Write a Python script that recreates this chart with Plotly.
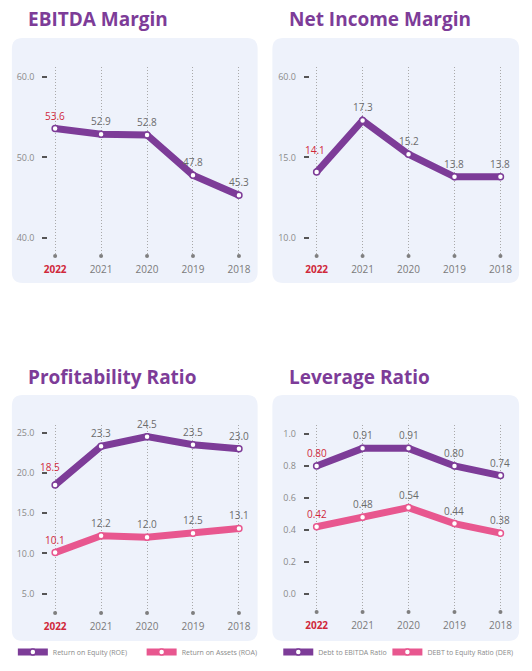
import plotly.graph_objects as go

W, H = 532, 671

years = ["2022", "2021", "2020", "2019", "2018"]
year_labels = ["<span style='color:#d0283a'><b>2022</b></span>", "2021", "2020", "2019", "2018"]

ebitda_margin = [53.6, 52.9, 52.8, 47.8, 45.3]
net_income_margin = [14.1, 17.3, 15.2, 13.8, 13.8]
roe = [18.5, 23.3, 24.5, 23.5, 23.0]
roa = [10.1, 12.2, 12.0, 12.5, 13.1]
debt_to_ebitda = [0.80, 0.91, 0.91, 0.80, 0.74]
der = [0.42, 0.48, 0.54, 0.44, 0.38]

ebitda_ticks = [40, 50, 60]
ebitda_ticktext = ["40.0", "50.0", "60.0"]
nim_ticks = [10, 15, 20]
nim_ticktext = ["10.0", "15.0", "60.0"]
prof_ticks = [5, 10, 15, 20, 25]
prof_ticktext = ["5.0", "10.0", "15.0", "20.0", "25.0"]
lev_ticks = [0.0, 0.2, 0.4, 0.6, 0.8, 1.0]
lev_ticktext = ["0.0", "0.2", "0.4", "0.6", "0.8", "1.0"]

titles = ["EBITDA Margin", "Net Income Margin", "Profitability Ratio", "Leverage Ratio"]

PURPLE = "#7d3c98"
PINK = "#e8578f"
RED = "#d0283a"
GREY_TXT = "#6b6b6b"
BOX_BG = "#eef2fb"
FONT = "Open Sans"


def px_x(x):
    return x / W


def px_y(y):
    return 1 - y / H


def rounded_rect(x0, y0, x1, y1, r):
    pts = [
        ("M", x0 + r, y0), ("L", x1 - r, y0), ("Q", (x1, y0), (x1, y0 + r)),
        ("L", x1, y1 - r), ("Q", (x1, y1), (x1 - r, y1)),
        ("L", x0 + r, y1), ("Q", (x0, y1), (x0, y1 - r)),
        ("L", x0, y0 + r), ("Q", (x0, y0), (x0 + r, y0)),
    ]
    s = ""
    for p in pts:
        if p[0] == "Q":
            (cx, cy), (ex, ey) = p[1], p[2]
            s += f"Q{px_x(cx):.5f},{px_y(cy):.5f} {px_x(ex):.5f},{px_y(ey):.5f} "
        else:
            s += f"{p[0]}{px_x(p[1]):.5f},{px_y(p[2]):.5f} "
    return s + "Z"


panels = [
    dict(l=45, r=246, t=67, b=256, box=(8, 38, 258, 283), title=(22, 19),
         yr=[37.75, 61.25], tv=ebitda_ticks, tt=ebitda_ticktext),
    dict(l=311, r=512, t=67, b=256, box=(273, 38, 524, 283), title=(288, 19),
         yr=[8.88, 20.62], tv=nim_ticks, tt=nim_ticktext),
    dict(l=45, r=246, t=425, b=613, box=(8, 395, 258, 641), title=(22, 377),
         yr=[2.6, 25.95], tv=prof_ticks, tt=prof_ticktext),
    dict(l=311, r=512, t=425, b=612, box=(273, 395, 524, 641), title=(288, 377),
         yr=[-0.1125, 1.056], tv=lev_ticks, tt=lev_ticktext),
]

fig = go.Figure()
layout = dict(
    width=W, height=H, margin=dict(l=0, r=0, t=0, b=0),
    paper_bgcolor="white", plot_bgcolor="rgba(0,0,0,0)",
    font=dict(family=FONT, color=GREY_TXT),
    shapes=[], annotations=[],
)

for i, p in enumerate(panels):
    n = "" if i == 0 else str(i + 1)
    layout["xaxis" + n] = dict(
        domain=[px_x(p["l"]), px_x(p["r"])], anchor="y" + n,
        type="category", range=[-0.15, 4.15],
        tickmode="array", tickvals=years, ticktext=year_labels,
        showgrid=True, gridcolor="#a9a9a9", griddash="1px,2px", gridwidth=1,
        showline=False, zeroline=False, ticks="",
        tickfont=dict(size=10, color="#7a7a7a", family=FONT), ticklabelstandoff=6,
    )
    layout["yaxis" + n] = dict(
        domain=[px_y(p["b"]), px_y(p["t"])], anchor="x" + n,
        range=p["yr"], tickmode="array", tickvals=p["tv"], ticktext=p["tt"],
        showgrid=False, zeroline=False, showline=False,
        ticks="outside", ticklen=5, tickwidth=1.5, tickcolor="#555555",
        tickfont=dict(size=9, color="#8a8a8a", family=FONT), ticklabelstandoff=6,
    )
    x0, y0, x1, y1 = p["box"]
    layout["shapes"].append(dict(
        type="path", xref="paper", yref="paper", path=rounded_rect(x0, y0, x1, y1, 11),
        fillcolor=BOX_BG, line=dict(width=0), layer="below"))
    tx, ty = p["title"]
    layout["annotations"].append(dict(
        text=f"<b>{titles[i]}</b>", xref="paper", yref="paper",
        x=px_x(tx), y=px_y(ty), xanchor="left", yanchor="middle", showarrow=False,
        font=dict(size=19, color=PURPLE, family="Open Sans")))
    fig.add_trace(go.Scatter(
        x=years, y=[p["yr"][0]] * len(years), mode="markers",
        marker=dict(size=4, color="#7f7f7f"), cliponaxis=False,
        showlegend=False, hoverinfo="skip", xaxis="x" + n, yaxis="y" + n))

# extra label offsets for the first (highlighted) label of some series: (dx, dy) px
first_label_shift = {"nim": (-2, 22), "roe": (-5, 18)}


def add_series(values, color, fmt, idx, key, name=None, legend=None):
    n = "" if idx == 0 else str(idx + 1)
    fig.add_trace(go.Scatter(
        x=years, y=values, mode="lines+markers",
        line=dict(color=color, width=7),
        marker=dict(size=6, color="white", line=dict(color=color, width=1.5)),
        cliponaxis=False, name=name, showlegend=name is not None,
        legend=legend, xaxis="x" + n, yaxis="y" + n))
    for j, v in enumerate(values):
        dx, dy = (0, 13)
        if j == 0 and key in first_label_shift:
            dx, dy = first_label_shift[key]
        layout["annotations"].append(dict(
            x=j, y=v, xref="x" + n, yref="y" + n, text=fmt.format(v),
            showarrow=False, xshift=dx, yshift=dy, yanchor="middle",
            font=dict(size=10, color=RED if j == 0 else "#6b6b6b", family=FONT)))


add_series(ebitda_margin, PURPLE, "{:.1f}", 0, "ebitda")
add_series(net_income_margin, PURPLE, "{:.1f}", 1, "nim")
add_series(roe, PURPLE, "{:.1f}", 2, "roe", "Return on Equity (ROE)", "legend")
add_series(roa, PINK, "{:.1f}", 2, "roa", "Return on Assets (ROA)", "legend2")
add_series(debt_to_ebitda, PURPLE, "{:.2f}", 3, "debt", "Debt to EBITDA Ratio", "legend3")
add_series(der, PINK, "{:.2f}", 3, "der", "DEBT to Equity Ratio (DER)", "legend4")

legend_common = dict(orientation="h", yanchor="middle", xanchor="left",
                     font=dict(size=7, color="#8a8a8a", family=FONT),
                     bgcolor="rgba(0,0,0,0)", itemwidth=30, itemclick=False)
legend_x = {"legend": 9, "legend2": 140, "legend3": 279, "legend4": 390}
for key, lx in legend_x.items():
    layout[key] = dict(legend_common, x=px_x(lx), y=px_y(652))

fig.update_layout(**layout)
fig.write_html("out.html", config={"displayModeBar": False},
               post_script="document.body.style.margin='0';")
